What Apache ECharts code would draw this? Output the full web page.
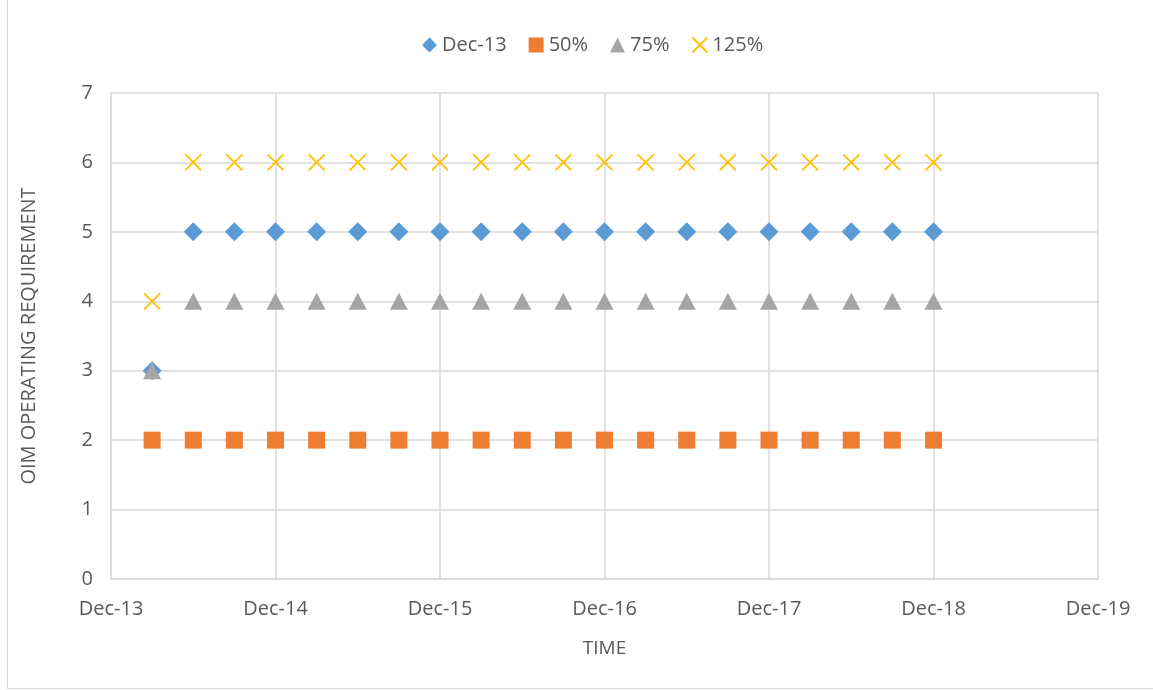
<!DOCTYPE html>
<html>
<head>
<meta charset="utf-8">
<script src="https://cdn.jsdelivr.net/npm/echarts@6/dist/echarts.min.js"></script>
<style>
  html, body { margin: 0; padding: 0; background: #fff; }
  #chart { width: 1153px; height: 690px; }
  #frame { position: absolute; left: 7px; top: -1px; width: 1150px; height: 688px; border: 1px solid #d9d9d9; pointer-events: none; }
</style>
</head>
<body>
<div id="chart"></div>
<div id="frame"></div>
<script>
// months after Dec-13, one point per quarter
const months = [3, 6, 9, 12, 15, 18, 21, 24, 27, 30, 33, 36, 39, 42, 45, 48, 51, 54, 57, 60]
const xTickLabels = ['Dec-13', 'Dec-14', 'Dec-15', 'Dec-16', 'Dec-17', 'Dec-18', 'Dec-19']

const seriesNames = ['Dec-13', '50%', '75%', '125%']
const dec13 = [3, 5, 5, 5, 5, 5, 5, 5, 5, 5, 5, 5, 5, 5, 5, 5, 5, 5, 5, 5]
const p50 = [2, 2, 2, 2, 2, 2, 2, 2, 2, 2, 2, 2, 2, 2, 2, 2, 2, 2, 2, 2]
const p75 = [3, 4, 4, 4, 4, 4, 4, 4, 4, 4, 4, 4, 4, 4, 4, 4, 4, 4, 4, 4]
const p125 = [4, 6, 6, 6, 6, 6, 6, 6, 6, 6, 6, 6, 6, 6, 6, 6, 6, 6, 6, 6]

const crossPath = 'path://M0,0L10,10M10,0L0,10'
const textColor = '#595959'
const fontFamily = '"Open Sans", "Liberation Sans", sans-serif'

function pairs (ys) {
  return ys.map((y, i) => [months[i], y])
}

const chart = echarts.init(document.getElementById('chart'))
chart.setOption({
  animation: false,
  textStyle: { fontFamily: fontFamily },
  legend: {
    top: 30,
    left: 417,
    itemGap: 22,
    itemWidth: 15,
    itemHeight: 15,
    textStyle: { color: textColor, fontSize: 20, fontFamily: fontFamily },
    data: [
      { name: seriesNames[0], icon: 'diamond' },
      { name: seriesNames[1], icon: 'rect' },
      { name: seriesNames[2], icon: 'triangle' },
      { name: seriesNames[3], icon: crossPath, itemStyle: { color: 'transparent', borderColor: '#FFC000', borderWidth: 1.8 } }
    ]
  },
  grid: { left: 111, right: 55, top: 93, bottom: 111 },
  xAxis: {
    type: 'value',
    min: 0,
    max: 72,
    interval: 12,
    name: 'TIME',
    nameLocation: 'middle',
    nameGap: 60,
    nameTextStyle: { color: textColor, fontSize: 19 },
    axisLine: { show: true, lineStyle: { color: '#d9d9d9', width: 1.5 } },
    axisTick: { show: false },
    axisLabel: {
      color: textColor,
      fontSize: 20,
      margin: 20,
      formatter: v => xTickLabels[Math.round(v / 12)]
    },
    splitLine: { show: true, lineStyle: { color: '#d9d9d9', width: 1.5 } }
  },
  yAxis: {
    type: 'value',
    min: 0,
    max: 7,
    interval: 1,
    name: 'OIM OPERATING REQUIREMENT',
    nameLocation: 'middle',
    nameGap: 72,
    nameTextStyle: { color: textColor, fontSize: 20 },
    axisLine: { show: true, lineStyle: { color: '#d9d9d9', width: 1.5 } },
    axisTick: { show: false },
    axisLabel: { color: textColor, fontSize: 20, margin: 18 },
    splitLine: { lineStyle: { color: '#d9d9d9', width: 1.5 } }
  },
  series: [
    {
      name: seriesNames[0], type: 'scatter', symbol: 'diamond', symbolSize: 19,
      itemStyle: { color: '#5B9BD5', opacity: 1 }, data: pairs(dec13)
    },
    {
      name: seriesNames[1], type: 'scatter', symbol: 'rect', symbolSize: 17,
      itemStyle: { color: '#ED7D31', opacity: 1 }, data: pairs(p50)
    },
    {
      name: seriesNames[2], type: 'scatter', symbol: 'triangle', symbolSize: [18, 17],
      itemStyle: { color: '#A5A5A5', opacity: 1 }, data: pairs(p75)
    },
    {
      name: seriesNames[3], type: 'scatter', symbol: crossPath, symbolSize: 16,
      itemStyle: { color: 'transparent', borderColor: '#FFC000', borderWidth: 1.8, opacity: 1 }, data: pairs(p125)
    }
  ]
})
</script>
</body>
</html>
